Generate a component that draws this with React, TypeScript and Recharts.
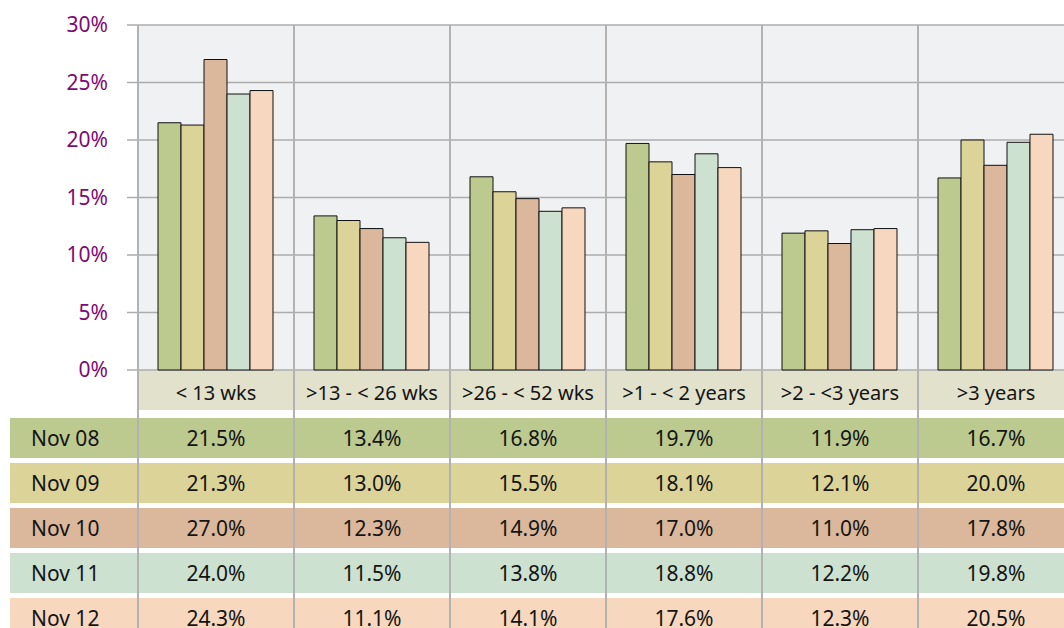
import { BarChart, Bar, XAxis, YAxis, CartesianGrid } from 'recharts';

const CATEGORIES = ['< 13 wks', '>13 - < 26 wks', '>26 - < 52 wks', '>1 - < 2 years', '>2 - <3 years', '>3 years'];
const SERIES = ['Nov 08', 'Nov 09', 'Nov 10', 'Nov 11', 'Nov 12'];

const NOV_08 = [21.5, 13.4, 16.8, 19.7, 11.9, 16.7];
const NOV_09 = [21.3, 13.0, 15.5, 18.1, 12.1, 20.0];
const NOV_10 = [27.0, 12.3, 14.9, 17.0, 11.0, 17.8];
const NOV_11 = [24.0, 11.5, 13.8, 18.8, 12.2, 19.8];
const NOV_12 = [24.3, 11.1, 14.1, 17.6, 12.3, 20.5];

const Y_TICKS = [0, 5, 10, 15, 20, 25, 30];

const VALUES = [NOV_08, NOV_09, NOV_10, NOV_11, NOV_12];
const COLORS = ['#bcc98f', '#dcd398', '#dbb79b', '#cde1d1', '#f7d8bf'];

const FONT = '"Noto Sans", "Open Sans", sans-serif';
const PURPLE = '#7e0a74';
const GRID = '#acacac';

// layout
const PLOT_LEFT = 138;
const COL_W = 156;
const TOP = 25;
const PLOT_H = 345;
const AXIS_H = 40;
const CHART_W = PLOT_LEFT + COL_W * CATEGORIES.length;
const CHART_H = TOP + PLOT_H + AXIS_H;
const ROW_TOP = CHART_H + 8;
const ROW_H = 40;
const ROW_GAP = 5;

const data = CATEGORIES.map((name, i) => {
  const row: Record<string, string | number> = { name };
  SERIES.forEach((s, j) => {
    row[s] = VALUES[j][i];
  });
  return row;
});

const pct = (v: number) => `${v.toFixed(1)}%`;

export default function App() {
  return (
    <div
      style={{
        position: 'fixed',
        left: 0,
        top: 0,
        width: 1064,
        height: 628,
        overflow: 'hidden',
        background: '#fff',
        fontFamily: FONT,
      }}
    >
      {/* category band behind the x axis labels */}
      <div
        style={{
          position: 'absolute',
          left: PLOT_LEFT,
          top: TOP + PLOT_H,
          width: CHART_W - PLOT_LEFT,
          height: AXIS_H,
          background: '#e1e1cc',
        }}
      />

      <div style={{ position: 'absolute', left: 0, top: 0 }}>
        <BarChart
          width={CHART_W}
          height={CHART_H}
          data={data}
          margin={{ top: TOP, right: 0, left: 0, bottom: 0 }}
          barCategoryGap={20}
          barGap={0}
        >
          <CartesianGrid vertical={false} fill="#f0f1f3" stroke={GRID} strokeWidth={1.5} />
          <XAxis
            dataKey="name"
            height={AXIS_H}
            interval={0}
            axisLine={false}
            tickLine={false}
            tickSize={0}
            tickMargin={16}
            tick={{ fill: '#141414', fontSize: 20, fontFamily: FONT }}
          />
          <YAxis
            width={PLOT_LEFT}
            domain={[0, 30]}
            ticks={Y_TICKS}
            tickFormatter={(v: number) => `${v}%`}
            axisLine={false}
            tickLine={{ stroke: GRID, strokeWidth: 1.5 }}
            tickSize={11}
            tickMargin={19}
            tick={{ fill: PURPLE, fontSize: 21, fontFamily: FONT }}
          />
          {SERIES.map((s, j) => (
            <Bar
              key={s}
              dataKey={s}
              fill={COLORS[j]}
              stroke="#111"
              strokeWidth={1}
              isAnimationActive={false}
            />
          ))}
        </BarChart>
      </div>

      {/* data table */}
      {SERIES.map((s, j) => (
        <div
          key={s}
          style={{
            position: 'absolute',
            left: 10,
            top: ROW_TOP + j * (ROW_H + ROW_GAP),
            width: CHART_W - 10,
            height: ROW_H,
            background: COLORS[j],
            display: 'flex',
            fontSize: 21,
            color: '#141414',
            lineHeight: `${ROW_H}px`,
          }}
        >
          <div style={{ width: PLOT_LEFT - 10, paddingLeft: 21, boxSizing: 'border-box' }}>{s}</div>
          {VALUES[j].map((v, i) => (
            <div key={CATEGORIES[i]} style={{ width: COL_W, textAlign: 'center' }}>
              {pct(v)}
            </div>
          ))}
        </div>
      ))}

      {/* column separators running through plot, band and table */}
      {Array.from({ length: CATEGORIES.length + 1 }, (_, i) => (
        <div
          key={i}
          style={{
            position: 'absolute',
            left: PLOT_LEFT + i * COL_W - 0.75,
            top: TOP,
            width: 1.5,
            height: 628 - TOP,
            background: '#b2b2b2',
          }}
        />
      ))}
    </div>
  );
}
